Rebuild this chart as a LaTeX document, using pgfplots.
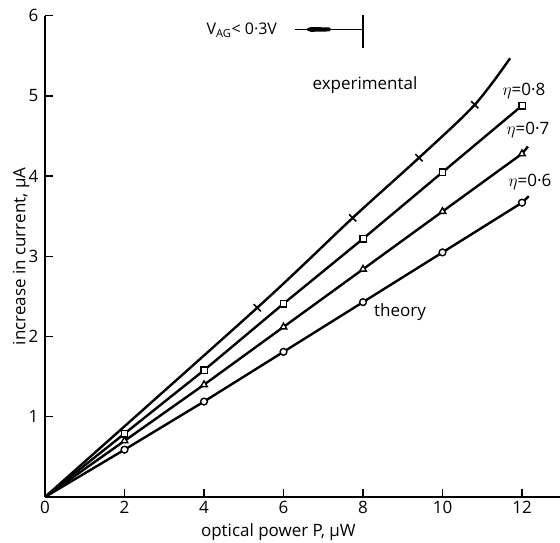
\documentclass[border=0pt]{standalone}
\usepackage{fontspec}
\setmainfont{Open Sans}
\usepackage{pgfplots}
\pgfplotsset{compat=1.18}
\begin{document}
\begin{tikzpicture}[x=1pt,y=1pt]
\useasboundingbox (-45,-46) rectangle (515,497);
\begin{axis}[
  at={(0,0)}, anchor=origin,
  x=39.75pt, y=80.2pt,
  xmin=0, xmax=12.96, ymin=0, ymax=6,
  axis lines*=left,
  axis line style={line width=1.8pt},
  clip=false,
  xtick={0,2,...,12}, ytick={1,...,6},
  tick align=inside,
  major tick length=8pt,
  tick style={line width=1.4pt, black},
  /pgf/number format/assume math mode=true,
  tick label style={font=\fontsize{17}{17}\selectfont},
  yticklabel style={xshift=-3pt},
  xticklabel style={yshift=-1pt},
  every axis plot/.append style={line width=2.4pt, black},
]
% experimental
\addplot[smooth, tension=0.5, mark=x, mark size=5pt, mark indices={2,3,4,5},
  mark options={line width=1.6pt}]
  coordinates {(0,0) (5.34,2.36) (7.74,3.48) (9.41,4.23) (10.81,4.89) (11.70,5.47)};
% eta = 0.8
\addplot[mark=square*, mark size=3.2pt, mark indices={2,...,7},
  mark options={fill=white, line width=1.4pt}]
  coordinates {(0,0) (2,0.79) (4,1.58) (6,2.41) (8,3.22) (10,4.05) (12,4.88)};
% eta = 0.7
\addplot[mark=triangle*, mark size=3.8pt, mark indices={2,...,7},
  mark options={fill=white, line width=1.4pt}]
  coordinates {(0,0) (2,0.70) (4,1.40) (6,2.12) (8,2.84) (10,3.56) (12,4.28) (12.15,4.37)};
% eta = 0.6
\addplot[mark=*, mark size=3.4pt, mark indices={2,...,7},
  mark options={fill=white, line width=1.4pt}]
  coordinates {(0,0) (2,0.59) (4,1.19) (6,1.81) (8,2.43) (10,3.05) (12,3.67) (12.17,3.75)};

\node[font=\fontsize{17}{17}\selectfont] at (axis cs:8.05,5.14) {experimental};
\node[font=\fontsize{17}{17}\selectfont] at (axis cs:12.05,5.06) {$\eta$=0·8};
\node[font=\fontsize{17}{17}\selectfont] at (axis cs:12.15,4.58) {$\eta$=0·7};
\node[font=\fontsize{17}{17}\selectfont] at (axis cs:12.2,3.93) {$\eta$=0·6};
\node[font=\fontsize{17}{17}\selectfont] at (axis cs:8.93,2.30) {theory};
\node[font=\fontsize{16}{16}\selectfont] at (axis cs:4.95,5.82) {V\textsubscript{AG}< 0·3V};
\draw[line width=1.2pt] (axis cs:6.28,5.83) -- (axis cs:8.0,5.83);
\fill (axis cs:6.55,5.83) -- (axis cs:6.68,5.86) -- (axis cs:7.15,5.855) -- (axis cs:7.20,5.83)
  -- (axis cs:7.15,5.805) -- (axis cs:6.68,5.80) -- cycle;
\draw[line width=1.3pt] (axis cs:8.0,5.60) -- (axis cs:8.0,6.01);
\node[font=\fontsize{17}{17}\selectfont, rotate=90] at (axis cs:-0.6,3.0) {increase in current, μA};
\node[font=\fontsize{17}{17}\selectfont] at (axis cs:5.87,-0.44) {optical power P, μW};
\end{axis}
\end{tikzpicture}
\end{document}
